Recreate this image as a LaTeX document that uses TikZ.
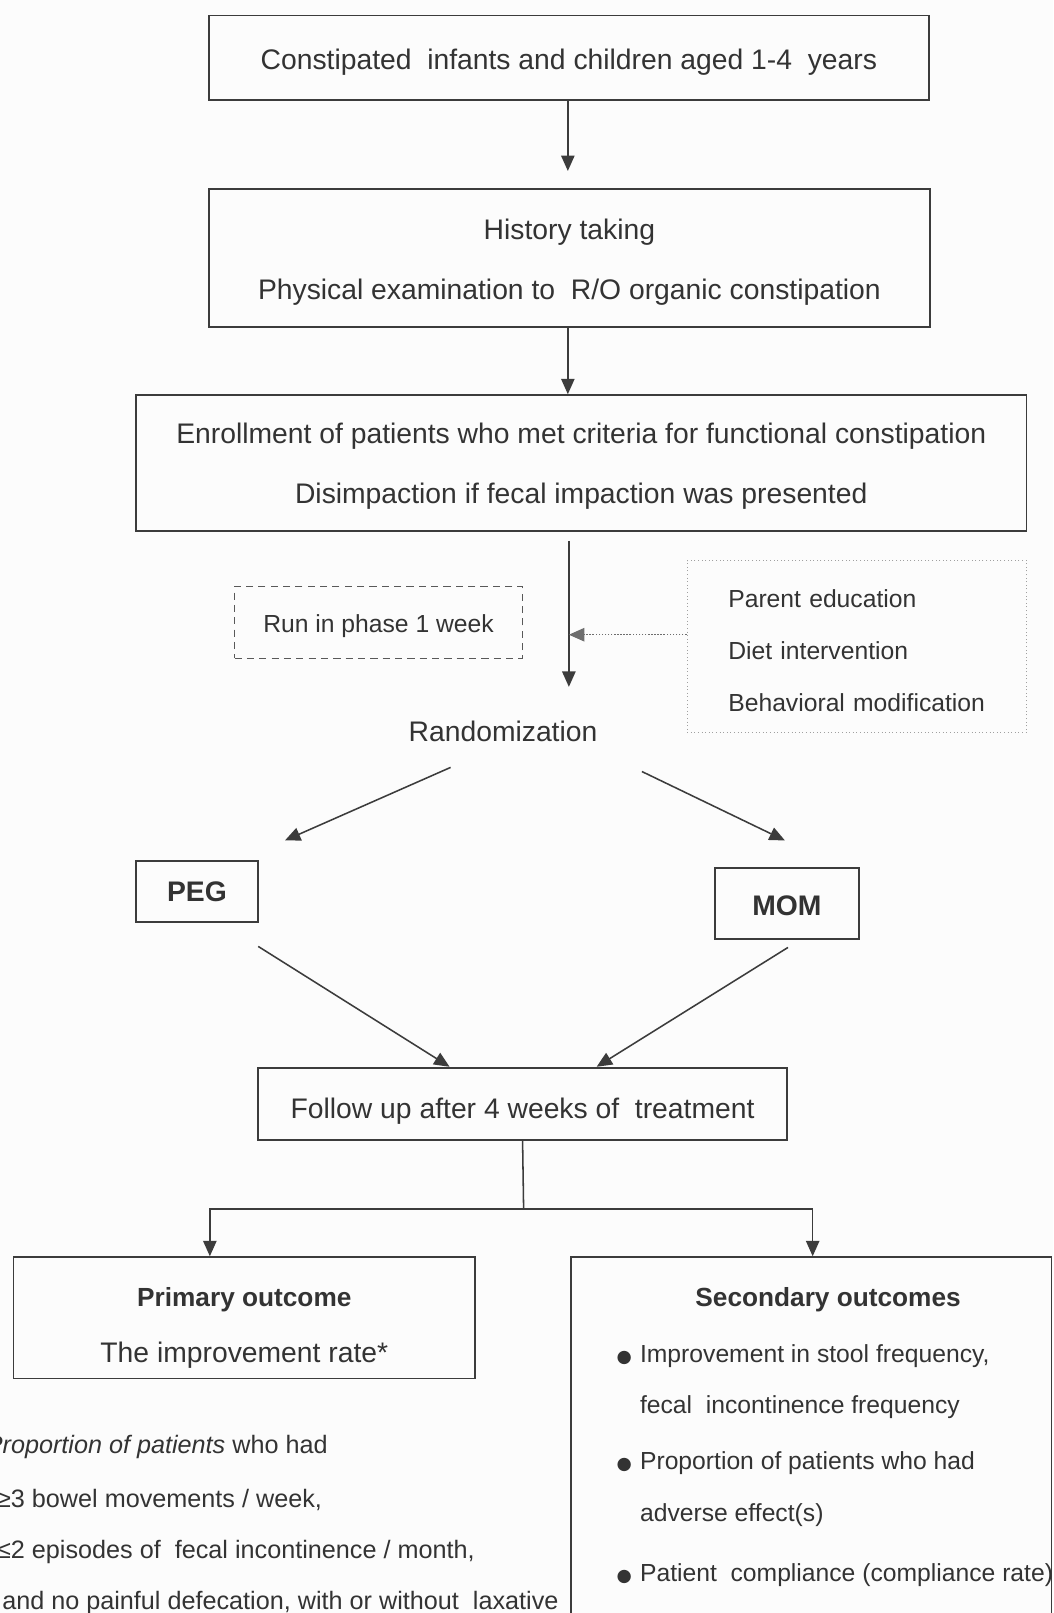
\documentclass[tikz,border=0pt]{standalone}
\usepackage{fontspec}
\setmainfont{Liberation Sans}
\newfontfamily\dejavu{DejaVu Sans}
\usetikzlibrary{arrows.meta,calc}
\definecolor{ink}{HTML}{333333}
\definecolor{edge}{HTML}{3C3C3C}
\definecolor{dotc}{HTML}{A0A0A0}
\definecolor{bg}{HTML}{FCFCFC}
\newcommand{\blt}{\llap{{\dejavu\fontsize{17pt}{17pt}\selectfont ●}\hspace{8pt}}}
\newcommand{\hs}[1]{\rule{0pt}{#1pt}}
\begin{document}
\begin{tikzpicture}[x=1pt,y=-1pt,
  box/.style={draw=edge, line width=1.6pt, rectangle, inner sep=0pt, text=ink, align=center},
  big/.style={font=\fontsize{27.5pt}{58pt}\selectfont},
  mid/.style={font=\fontsize{24pt}{50.5pt}\selectfont},
  small/.style={font=\fontsize{24.5pt}{30pt}\selectfont},
  arr/.style={draw=edge, line width=1.5pt, -{Triangle[width=13pt,length=15pt]}},
  dotarr/.style={draw=edge!75, line width=1.3pt, dash pattern=on 1.5pt off 1.5pt, -{Triangle[width=13pt,length=15pt]}},
  ln/.style={draw=edge, line width=1.5pt},
  txt/.style={text=ink, inner sep=0pt}]
\path[use as bounding box, fill=bg] (0,0) rectangle (1024,1568);
\clip (0,0) rectangle (1024,1568);

% boxes
\node[box,big,minimum width=700pt,minimum height=82pt] (b1) at (553,56)
  {\hs{28}Constipated\ \ infants and children aged 1-4\ \ years};
\node[box,big,minimum width=701pt,minimum height=134pt] (b2) at (553.5,251)
  {\hs{28}History taking\\Physical examination to\ \ R/O organic constipation};
\node[box,big,minimum width=866pt,minimum height=132pt] (b3) at (565,450)
  {\hs{26}Enrollment of patients who met criteria for functional constipation\\Disimpaction if fecal impaction was presented};
\node[box,mid,draw=edge!85,line width=1.3pt,dash pattern=on 7pt off 5pt,minimum width=280pt,minimum height=70pt] (run) at (368,605)
  {\hs{25.5}Run in phase 1 week};
\node[box,mid,draw=dotc,line width=1.2pt,dash pattern=on 1pt off 2.5pt,align=left,text width=250pt,inner xsep=40pt,inner ysep=0pt,minimum height=167pt] (diet) at (833,628.5)
  {\hs{25.5}Parent education\\Diet intervention\\Behavioral modification};
\node[txt,big] (rand) at (489,711) {Randomization};
\node[box,font=\fontsize{27.5pt}{30pt}\selectfont\bfseries,minimum width=119pt,minimum height=59pt] (peg) at (191.5,866.5) {PEG};
\node[box,font=\fontsize{27.5pt}{30pt}\selectfont\bfseries,minimum width=140pt,minimum height=69pt] (mom) at (765,878.5) {\hs{24}MOM};
\node[box,big,minimum width=514pt,minimum height=70pt] (fu) at (508,1073)
  {\hs{34}Follow up after 4 weeks of\ \ treatment};
\node[box,font=\fontsize{27.5pt}{54pt}\selectfont,minimum width=449pt,minimum height=118pt] (prim) at (237.5,1281)
  {\hs{38}{\fontsize{25.5pt}{54pt}\selectfont\bfseries Primary outcome}\\The improvement rate*};
\node[box,minimum width=467pt,minimum height=428pt] (sec) at (788.5,1436) {};

% secondary outcome texts
\node[txt,font=\fontsize{25.5pt}{30pt}\selectfont\bfseries] (sech) at (805,1263) {Secondary outcomes};
\node[txt,mid,anchor=base west] (sl1) at (622,1324) {\blt Improvement in stool frequency,};
\node[txt,mid,anchor=base west] (sl2) at (622,1374) {fecal\ \ incontinence frequency};
\node[txt,mid,anchor=base west] (sl3) at (622,1428) {\blt Proportion of patients who had};
\node[txt,mid,anchor=base west] (sl4) at (622,1479) {adverse effect(s)};
\node[txt,mid,anchor=base west] (sl5) at (622,1537) {\blt Patient\ \ compliance (compliance rate)};

% footnote
\node[txt,small,anchor=base west] (fn1) at (-14,1413) {\textit{Proportion of patients} who had};
\node[txt,small,anchor=base west] (fn2) at (-3,1465) {≥3 bowel movements / week,};
\node[txt,small,anchor=base west] (fn3) at (-3,1515) {≤2 episodes of\ \ fecal incontinence / month,};
\node[txt,small,anchor=base west] (fn4) at (2,1565) {and no painful defecation, with or without\ \ laxative};

% connectors
\coordinate (dj) at (553,617);
\coordinate (sp) at (509,1175);
\draw[arr] (b1.south -| 552,0) -- ([yshift=17pt]b2.north -| 552,0);
\draw[arr] (b2.south -| 552,0) -- (b3.north -| 552,0);
\draw[arr, shorten >=33pt] ($(b3.south -| dj)+(0,9)$) -- (rand.north -| dj);
\draw[dotarr] (diet.west |- dj) -- (dj);
\draw[arr] ([shift={(-51,35)}]rand.center) -- ([shift={(85.5,-49.5)}]peg.center);
\draw[arr] ([shift={(135,39)}]rand.center) -- ([shift={(-2,-61.5)}]mom.center);
\draw[arr] ([shift={(59.5,53.5)}]peg.center) -- ([shift={(-71,-36)}]fu.center);
\draw[arr] ([shift={(1,42.5)}]mom.center) -- ([shift={(72,-36)}]fu.center);
\draw[ln] (fu.south) -- (sp);
\draw[arr] (sp) -| ([xshift=-33.5pt]prim.north);
\draw[arr] (sp) -| ([xshift=1.5pt]sec.north);
\end{tikzpicture}
\end{document}
